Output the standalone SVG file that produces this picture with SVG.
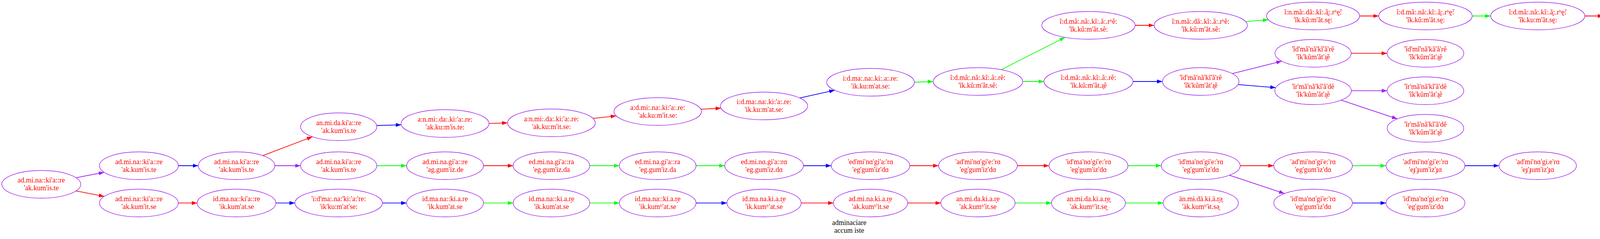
<svg xmlns="http://www.w3.org/2000/svg" width="4349" height="613" viewBox="0 0 4349 613">
<style>
.node ellipse{fill:none;stroke:#a020f0;stroke-width:1.4}
.node text{font-family:"Liberation Serif","DejaVu Serif","Noto Sans",serif;font-size:18px;fill:#ff0000;text-anchor:middle}
.cap{font-family:"Liberation Serif","DejaVu Serif",serif;font-size:18px;fill:#000000;text-anchor:middle}
.e{fill:none;stroke-width:1.8}
.r{stroke:#ff0000;marker-end:url(#mr)}
.b{stroke:#0000ff;marker-end:url(#mb)}
.g{stroke:#00ff00;marker-end:url(#mg)}
.p{stroke:#a020f0;marker-end:url(#mp)}
</style>
<defs>
<marker id="mr" markerUnits="userSpaceOnUse" markerWidth="14" markerHeight="10" refX="14" refY="5" orient="auto"><path d="M0,0 L14,5 L0,10 z" fill="#ff0000"/></marker>
<marker id="mb" markerUnits="userSpaceOnUse" markerWidth="14" markerHeight="10" refX="14" refY="5" orient="auto"><path d="M0,0 L14,5 L0,10 z" fill="#0000ff"/></marker>
<marker id="mg" markerUnits="userSpaceOnUse" markerWidth="14" markerHeight="10" refX="14" refY="5" orient="auto"><path d="M0,0 L14,5 L0,10 z" fill="#00ff00"/></marker>
<marker id="mp" markerUnits="userSpaceOnUse" markerWidth="14" markerHeight="10" refX="14" refY="5" orient="auto"><path d="M0,0 L14,5 L0,10 z" fill="#a020f0"/></marker>
</defs>
<rect width="4349" height="613" fill="#ffffff"/>
<g id="edges">
<line class="e p" x1="194.5" y1="455.8" x2="266.8" y2="441.9"/>
<line class="e r" x1="194.3" y1="489.7" x2="267" y2="503.7"/>
<line class="e b" x1="456.6" y1="425" x2="507.5" y2="425"/>
<line class="e r" x1="456.6" y1="520.7" x2="504.8" y2="520.7"/>
<line class="e r" x1="672.9" y1="399.2" x2="799.8" y2="350.7"/>
<line class="e p" x1="703.5" y1="425" x2="769.5" y2="425"/>
<line class="e b" x1="706.2" y1="520.7" x2="755" y2="520.7"/>
<line class="e b" x1="964.2" y1="322" x2="1027.3" y2="320.1"/>
<line class="e r" x1="1251.8" y1="316.6" x2="1299.4" y2="315.1"/>
<line class="e r" x1="1518.1" y1="303.7" x2="1577.5" y2="297.3"/>
<line class="e r" x1="1794.2" y1="280.2" x2="1845.9" y2="277.5"/>
<line class="e b" x1="2047.4" y1="251.3" x2="2136.8" y2="231.4"/>
<line class="e g" x1="964.5" y1="425" x2="1040.9" y2="425"/>
<line class="e r" x1="1237.7" y1="425" x2="1313.7" y2="425"/>
<line class="e g" x1="1509.7" y1="425" x2="1585.5" y2="425"/>
<line class="e g" x1="1781.9" y1="425" x2="1855.3" y2="425"/>
<line class="e b" x1="2056.7" y1="425" x2="2128.1" y2="425"/>
<line class="e b" x1="979" y1="520.7" x2="1040.9" y2="520.7"/>
<line class="e g" x1="1237.7" y1="520.7" x2="1313.7" y2="520.7"/>
<line class="e g" x1="1509.7" y1="520.7" x2="1585.5" y2="520.7"/>
<line class="e b" x1="1781.9" y1="520.7" x2="1861" y2="520.7"/>
<line class="e r" x1="2051" y1="520.7" x2="2133.6" y2="520.7"/>
<line class="e g" x1="2340.8" y1="211" x2="2389.1" y2="209"/>
<line class="e g" x1="2563.2" y1="178.7" x2="2726.3" y2="95.7"/>
<line class="e g" x1="2618.1" y1="209" x2="2672.5" y2="209"/>
<line class="e r" x1="2905.9" y1="65" x2="2954.5" y2="65"/>
<line class="e g" x1="3188.9" y1="55.4" x2="3246.9" y2="50.6"/>
<line class="e r" x1="3480.5" y1="41" x2="3529.6" y2="41"/>
<line class="e g" x1="3768.8" y1="41" x2="3816.1" y2="41"/>
<line class="e r" x1="4057.1" y1="41" x2="4104.3" y2="41"/>
<line class="e b" x1="2900.5" y1="209" x2="2976" y2="209"/>
<line class="e p" x1="3154.4" y1="188.8" x2="3281.3" y2="156.9"/>
<line class="e b" x1="3169.4" y1="216.9" x2="3266" y2="224.8"/>
<line class="e r" x1="3459" y1="136.7" x2="3551" y2="136.7"/>
<line class="e p" x1="3459.4" y1="232.7" x2="3551.2" y2="232.7"/>
<line class="e p" x1="3433.4" y1="256.8" x2="3577.2" y2="304.9"/>
<line class="e r" x1="2329.1" y1="425" x2="2402.8" y2="425"/>
<line class="e r" x1="2604.4" y1="425" x2="2685.5" y2="425"/>
<line class="e g" x1="2887.5" y1="425" x2="2972.9" y2="425"/>
<line class="e r" x1="3174.9" y1="425" x2="3260.8" y2="425"/>
<line class="e p" x1="3147.3" y1="449.4" x2="3288.3" y2="496.3"/>
<line class="e g" x1="3462.2" y1="425" x2="3548.2" y2="425"/>
<line class="e b" x1="3750.2" y1="425" x2="3837.6" y2="425"/>
<line class="e r" x1="2323.6" y1="520.7" x2="2408.6" y2="520.7"/>
<line class="e g" x1="2598.6" y1="520.7" x2="2691.9" y2="520.7"/>
<line class="e g" x1="2881.1" y1="520.7" x2="2977.6" y2="520.7"/>
<line class="e b" x1="3462.2" y1="520.7" x2="3548.2" y2="520.7"/>
</g>
<g id="nA" class="node"><ellipse cx="105.7" cy="472.7" rx="101" ry="35.5"/><text x="105.7" y="468.2">ad.mi.na::ki'a::re<tspan x="105.7" dy="20">'ak.kum'is.te</tspan></text></g>
<g id="nB" class="node"><ellipse cx="355.6" cy="425" rx="101" ry="35.5"/><text x="355.6" y="420.5">ad.mi.na::ki'a::re<tspan x="355.6" dy="20">'ak.kum'is.te</tspan></text></g>
<g id="nC" class="node"><ellipse cx="355.6" cy="520.7" rx="101" ry="35.5"/><text x="355.6" y="516.2">ad.mi.na::ki'a::re<tspan x="355.6" dy="20">'ak.kum'it.se</tspan></text></g>
<g id="nD" class="node"><ellipse cx="605.5" cy="425" rx="98" ry="35.5"/><text x="605.5" y="420.5">ad.mi.na.ki'a::re<tspan x="605.5" dy="20">'ak.kum'is.te</tspan></text></g>
<g id="nE" class="node"><ellipse cx="605.5" cy="520.7" rx="100.7" ry="35.5"/><text x="605.5" y="516.2">id.ma.na::ki'a::re<tspan x="605.5" dy="20">'ik.kum'at.se</tspan></text></g>
<g id="nF" class="node"><ellipse cx="867" cy="325" rx="97.5" ry="35.5"/><text x="867" y="320.5">an.mi.da.ki'a::re<tspan x="867" dy="20">'ak.kum'is.te</tspan></text></g>
<g id="nI" class="node"><ellipse cx="867" cy="425" rx="97.5" ry="35.5"/><text x="867" y="420.5">ad.mi.na.ki'a::re<tspan x="867" dy="20">'ak.kum'is.te</tspan></text></g>
<g id="nN" class="node"><ellipse cx="867" cy="520.7" rx="112" ry="35.5"/><text x="867" y="516.2">'i:d'ma:.na:'ki:'a:'re:<tspan x="867" dy="20">'ik'ku:m'at'se:</tspan></text></g>
<g id="nG" class="node"><ellipse cx="1139.3" cy="316.7" rx="112.5" ry="35.5"/><text x="1139.3" y="312.2">a:n.mi:.da:.ki:'a:.re:<tspan x="1139.3" dy="20">'ak.ku:m'is.te:</tspan></text></g>
<g id="nJ" class="node"><ellipse cx="1139.3" cy="425" rx="98.4" ry="35.5"/><text x="1139.3" y="420.5">ad.mi.na.gi'a::re<tspan x="1139.3" dy="20">'ag.gum'iz.de</tspan></text></g>
<g id="nO" class="node"><ellipse cx="1139.3" cy="520.7" rx="98.4" ry="35.5"/><text x="1139.3" y="516.2">id.ma.na::ki.a.re<tspan x="1139.3" dy="20">'ik.kum'at.se</tspan></text></g>
<g id="nH" class="node"><ellipse cx="1411.7" cy="315" rx="112.3" ry="35.5"/><text x="1411.7" y="310.5">a:n.mi:.da:.ki:'a:.re:<tspan x="1411.7" dy="20">'ak.ku:m'it.se:</tspan></text></g>
<g id="nK" class="node"><ellipse cx="1411.7" cy="425" rx="98" ry="35.5"/><text x="1411.7" y="420.5">ed.mi.na.gi'a::ra<tspan x="1411.7" dy="20">'eg.gum'iz.da</tspan></text></g>
<g id="nP" class="node"><ellipse cx="1411.7" cy="520.7" rx="98" ry="35.5"/><text x="1411.7" y="516.2">id.ma.na::ki.a.r̝e<tspan x="1411.7" dy="20">'ik.kum'at.se</tspan></text></g>
<g id="nS" class="node"><ellipse cx="1683.7" cy="286" rx="112" ry="35.5"/><text x="1683.7" y="281.5">a:d.mi:.na:.ki:'a:.re:<tspan x="1683.7" dy="20">'ak.ku:m'it.se:</tspan></text></g>
<g id="nL" class="node"><ellipse cx="1683.7" cy="425" rx="98.2" ry="35.5"/><text x="1683.7" y="420.5">ed.mi.na.gi'a::ra<tspan x="1683.7" dy="20">'eg.gum'iz.da</tspan></text></g>
<g id="nQ" class="node"><ellipse cx="1683.7" cy="520.7" rx="98.2" ry="35.5"/><text x="1683.7" y="516.2">id.ma.na::ki.a.r̝e<tspan x="1683.7" dy="20">'ik.kumʰ'at.se</tspan></text></g>
<g id="nT" class="node"><ellipse cx="1956" cy="271.7" rx="111.6" ry="35.5"/><text x="1956" y="267.2">i:d.ma:.na:.ki:'a:.re:<tspan x="1956" dy="20">'ik.ku:m'at.se:</tspan></text></g>
<g id="nM" class="node"><ellipse cx="1956" cy="425" rx="100.7" ry="35.5"/><text x="1956" y="420.5">ed.mi.nɑ.gi'a::rɑ<tspan x="1956" dy="20">'eg.gum'iz.dɑ</tspan></text></g>
<g id="nR" class="node"><ellipse cx="1956" cy="520.7" rx="95" ry="35.5"/><text x="1956" y="516.2">id.ma.na.ki.a.r̝e<tspan x="1956" dy="20">'ik.kumʰ'at.se</tspan></text></g>
<g id="nT2" class="node"><ellipse cx="2228.6" cy="211" rx="112.2" ry="35.5"/><text x="2228.6" y="206.5">i:d.ma:.na:.ki:.a:.re:<tspan x="2228.6" dy="20">'ik.ku:m'at.se:</tspan></text></g>
<g id="nK2" class="node"><ellipse cx="2228.6" cy="425" rx="100.5" ry="35.5"/><text x="2228.6" y="420.5">'ed'mi'nɑ'gi'a:'rɑ<tspan x="2228.6" dy="20">'eg'gum'iz'dɑ</tspan></text></g>
<g id="nR2" class="node"><ellipse cx="2228.6" cy="520.7" rx="95" ry="35.5"/><text x="2228.6" y="516.2">ad.mi.na.ki.a.r̝e<tspan x="2228.6" dy="20">'ak.kumʰ'it.se</tspan></text></g>
<g id="nU1" class="node"><ellipse cx="2503.6" cy="209" rx="114.5" ry="35.5"/><text x="2503.6" y="204.5">ĩ:d.mã:.nã:.kĩ:.ã:.rẽ:<tspan x="2503.6" dy="20">'ĩk.kũ:m'ãt.sẽ:</tspan></text></g>
<g id="nK3" class="node"><ellipse cx="2503.6" cy="425" rx="100.8" ry="35.5"/><text x="2503.6" y="420.5">'ad'mi'nɑ'gi'e:'rɑ<tspan x="2503.6" dy="20">'eg'gum'iz'dɑ</tspan></text></g>
<g id="nR3" class="node"><ellipse cx="2503.6" cy="520.7" rx="95" ry="35.5"/><text x="2503.6" y="516.2">an.mi.da.ki.a.r̝e<tspan x="2503.6" dy="20">'ak.kumʰ'it.se</tspan></text></g>
<g id="nU6" class="node"><ellipse cx="2786.5" cy="65" rx="119.4" ry="35.5"/><text x="2786.5" y="60.5">ĩ:d.mã:.nã:.kĩ:.ã:.rʰẽ:<tspan x="2786.5" dy="20">'ĩk.kũ:m'ãt.sẽ:</tspan></text></g>
<g id="nU2" class="node"><ellipse cx="2786.5" cy="209" rx="114" ry="35.5"/><text x="2786.5" y="204.5">ĩ:d.mã:.nã:.kĩ:.ã:.rẽ:<tspan x="2786.5" dy="20">'ĩk.kũ:m'ãt.ɹ̥ẽ</tspan></text></g>
<g id="nK4" class="node"><ellipse cx="2786.5" cy="425" rx="101" ry="35.5"/><text x="2786.5" y="420.5">'id'ma'nɑ'gi'e:'rɑ<tspan x="2786.5" dy="20">'eg'gum'iz'dɑ</tspan></text></g>
<g id="nR4" class="node"><ellipse cx="2786.5" cy="520.7" rx="94.6" ry="35.5"/><text x="2786.5" y="516.2">an.mi.da.ki.a.r̝e̥<tspan x="2786.5" dy="20">'ak.kumʰ'it.se̥</tspan></text></g>
<g id="nU7" class="node"><ellipse cx="3073.9" cy="65" rx="119.4" ry="35.5"/><text x="3073.9" y="60.5">ĩ:n.mã:.dã:.kĩ:.ã:.rʰẽ:<tspan x="3073.9" dy="20">'ĩk.kũ:m'ãt.sẽ:</tspan></text></g>
<g id="nU3" class="node"><ellipse cx="3073.9" cy="209" rx="97.9" ry="35.5"/><text x="3073.9" y="204.5">'ĩd'mã'nã'kĩ'ã'rẽ<tspan x="3073.9" dy="20">'ĩk'kũm'ãt'ɹ̥ẽ</tspan></text></g>
<g id="nK5" class="node"><ellipse cx="3073.9" cy="425" rx="101" ry="35.5"/><text x="3073.9" y="420.5">'id'ma'nɑ'gi'e:'rɑ<tspan x="3073.9" dy="20">'eg'gum'iz'dɑ</tspan></text></g>
<g id="nR5" class="node"><ellipse cx="3073.9" cy="520.7" rx="96.3" ry="35.5"/><text x="3073.9" y="516.2">än.mɨ.dä.kɨ.ä.r̝ə̥<tspan x="3073.9" dy="20">'äk.kumʰ'ɨt.sə̥</tspan></text></g>
<g id="nU8" class="node"><ellipse cx="3361.5" cy="41" rx="119" ry="35.5"/><text x="3361.5" y="36.5">ĩ:n.mã:.dã:.kĩ:.ã̰:.rʰḛ̃:<tspan x="3361.5" dy="20">'ĩk.kũ:m'ãt.sḛ:</tspan></text></g>
<g id="nU4" class="node"><ellipse cx="3361.5" cy="136.7" rx="97.5" ry="35.5"/><text x="3361.5" y="132.2">'ĩd'mã'nã'kĩ'ã'rẽ<tspan x="3361.5" dy="20">'ĩk'kũm'ãt'ɹ̥ẽ</tspan></text></g>
<g id="nV1" class="node"><ellipse cx="3361.5" cy="232.7" rx="97.9" ry="35.5"/><text x="3361.5" y="228.2">'ĩr'mã'nã'kĩ'ã'dẽ<tspan x="3361.5" dy="20">'ĩk'kũm'ãt'ɹ̥ẽ</tspan></text></g>
<g id="nK6" class="node"><ellipse cx="3361.5" cy="425" rx="100.7" ry="35.5"/><text x="3361.5" y="420.5">'ad'mi'nɑ'gi'e:'rɑ<tspan x="3361.5" dy="20">'eg'gum'iz'dɑ</tspan></text></g>
<g id="nR6" class="node"><ellipse cx="3361.5" cy="520.7" rx="100.7" ry="35.5"/><text x="3361.5" y="516.2">'id'ma'nɑ'gi'e:'rɑ<tspan x="3361.5" dy="20">'eg'gum'iz'dɑ</tspan></text></g>
<g id="nU9" class="node"><ellipse cx="3649.2" cy="41" rx="119.6" ry="35.5"/><text x="3649.2" y="36.5">ĩ:d.mã:.nã:.kĩ:.ã̰:.rʰḛ̃:<tspan x="3649.2" dy="20">'ĩk.kũ:m'ãt.sḛ:</tspan></text></g>
<g id="nU5" class="node"><ellipse cx="3649.2" cy="136.7" rx="98.2" ry="35.5"/><text x="3649.2" y="132.2">'ĩd'mĩ'nã'kã'ã'rẽ<tspan x="3649.2" dy="20">'ĩk'kũm'ãt'ɹ̥ẽ</tspan></text></g>
<g id="nV2" class="node"><ellipse cx="3649.2" cy="232.7" rx="98" ry="35.5"/><text x="3649.2" y="228.2">'ĩr'mã'nã'kĩ'ã'dẽ<tspan x="3649.2" dy="20">'ĩk'kũm'ãt'ɹ̥ẽ</tspan></text></g>
<g id="nV3" class="node"><ellipse cx="3649.2" cy="329" rx="98" ry="35.5"/><text x="3649.2" y="324.5">'ĩr'mã'nã'kĩ'ã'dẽ<tspan x="3649.2" dy="20">'ĩk'kũm'ãt'ɹ̥ẽ</tspan></text></g>
<g id="nK7" class="node"><ellipse cx="3649.2" cy="425" rx="101" ry="35.5"/><text x="3649.2" y="420.5">'ad'mi'nɑ'gi'e:'rɑ<tspan x="3649.2" dy="20">'eɟ'ɟum'iz'ɟɑ</tspan></text></g>
<g id="nR7" class="node"><ellipse cx="3649.2" cy="520.7" rx="101" ry="35.5"/><text x="3649.2" y="516.2">'id'ma'nɑ'gi.e:'rɑ<tspan x="3649.2" dy="20">'eg'gum'iz'dɑ</tspan></text></g>
<g id="nU10" class="node"><ellipse cx="3936.6" cy="41" rx="120.5" ry="35.5"/><text x="3936.6" y="36.5">ĩ:d.mã:.nã:.kĩ:.ã̰:.rʰḛ̃:<tspan x="3936.6" dy="20">'ĩk.ku:m'ãt.sḛ:</tspan></text></g>
<g id="nK8" class="node"><ellipse cx="3936.6" cy="425" rx="99" ry="35.5"/><text x="3936.6" y="420.5">'ad'mi'nɑ'gi.e'rɑ<tspan x="3936.6" dy="20">'eɟ'ɟum'iz'ɟɑ</tspan></text></g>
<g id="nU11" class="node"><ellipse cx="4223.8" cy="41" rx="119.5" ry="35.5"/><text x="4223.8" y="36.5">ĩ:n.mã:.dã:.kĩ:.ã̰:.rʰḛ̃:<tspan x="4223.8" dy="20">'ĩk.ku:m'ãt.sḛ:</tspan></text></g>
<g id="caption"><text class="cap" x="2174" y="576.5">adminaciare<tspan x="2174" dy="20">accum iste</tspan></text></g>
</svg>
